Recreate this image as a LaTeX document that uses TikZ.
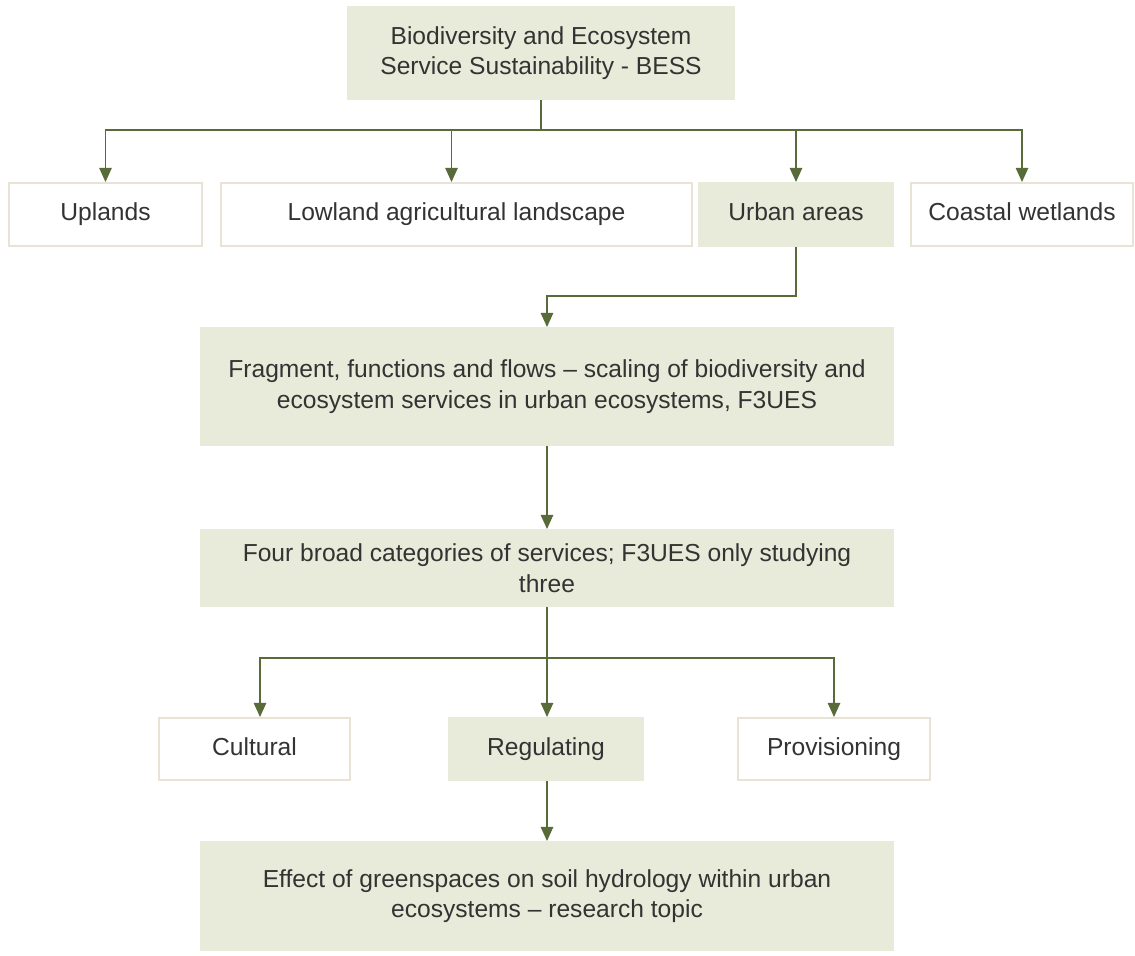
\documentclass[tikz,border=0pt]{standalone}
\usepackage{fontspec}
\setmainfont{Liberation Sans}
\usetikzlibrary{arrows.meta}

\definecolor{boxfill}{HTML}{E8EBD9}
\definecolor{boxline}{HTML}{E9E3D5}
\definecolor{arrowcol}{HTML}{5A6B3A}
\definecolor{textcol}{HTML}{333333}

\tikzset{
    plainbox/.style={draw=boxline, line width=1.1pt, fill=white, inner sep=0pt,
        text=textcol, align=center, font=\fontsize{14}{17.4}\selectfont},
    greenbox/.style={plainbox, draw=boxfill, fill=boxfill},
    oneline/.style={text height=10pt, text depth=3pt},
    arr/.style={draw=arrowcol, line width=0.9pt, -{Triangle[width=7pt,length=8pt]}},
    link/.style={draw=arrowcol, line width=0.9pt}
}

\begin{document}
\begin{tikzpicture}
        \useasboundingbox (0, 0) rectangle (22.7, -19.1);

        % Draw the top box
        \node[greenbox, minimum width=7.72cm, minimum height=1.86cm] (bess) at (10.82, -1.06)
            {Biodiversity and Ecosystem\\Service Sustainability - BESS};

        % Draw the four landscapes
        \node[plainbox, oneline, minimum width=3.86cm, minimum height=1.26cm] (uplands) at (2.11, -4.29) {Uplands};
        \node[plainbox, oneline, minimum width=9.42cm, minimum height=1.26cm] (lowland) at (9.13, -4.29) {Lowland agricultural landscape};
        \node[greenbox, oneline, minimum width=3.88cm, minimum height=1.26cm] (urban) at (15.92, -4.29) {Urban areas};
        \node[plainbox, oneline, minimum width=4.44cm, minimum height=1.26cm] (coastal) at (20.44, -4.29) {Coastal wetlands};

        \coordinate (split1) at (10.82, -2.6);
        \draw[link] (bess.south) -- (split1);
        \draw[arr] (split1) -| (uplands.north);
        \draw[arr] (split1) -| ([xshift=-0.1cm]lowland.north);
        \draw[arr] (split1) -| (urban.north);
        \draw[arr] (split1) -| (coastal.north);

        % Draw the urban project
        \node[greenbox, minimum width=13.84cm, minimum height=2.34cm] (f3ues) at (10.94, -7.73)
            {Fragment, functions and flows -- scaling of biodiversity and\\ecosystem services in urban ecosystems, F3UES};

        \coordinate (bend) at (15.92, -5.92);
        \draw[arr] (urban.south) -- (bend) -| (f3ues.north);

        % Draw the categories of services
        \node[greenbox, minimum width=13.84cm, minimum height=1.52cm] (four) at (10.94, -11.36)
            {Four broad categories of services; F3UES only studying\\three};
        \draw[arr] (f3ues.south) -- (four.north);

        \node[plainbox, oneline, minimum width=3.82cm, minimum height=1.24cm] (cultural) at (5.09, -14.98) {Cultural};
        \node[greenbox, oneline, minimum width=3.88cm, minimum height=1.24cm] (regulating) at (10.92, -14.98) {Regulating};
        \node[plainbox, oneline, minimum width=3.84cm, minimum height=1.24cm] (provisioning) at (16.68, -14.98) {Provisioning};

        \coordinate (split2) at (10.94, -13.16);
        \draw[link] (four.south) -- (split2);
        \draw[arr] (split2) -| ([xshift=0.11cm]cultural.north);
        \draw[arr] (split2) -- (split2 |- regulating.north);
        \draw[arr] (split2) -| (provisioning.north);

        % Draw the research topic
        \node[greenbox, minimum width=13.84cm, minimum height=2.16cm] (topic) at (10.94, -17.92)
            {Effect of greenspaces on soil hydrology within urban\\ecosystems -- research topic};
        \draw[arr] (regulating.south -| topic.north) -- (topic.north);
    \end{tikzpicture}
\end{document}
